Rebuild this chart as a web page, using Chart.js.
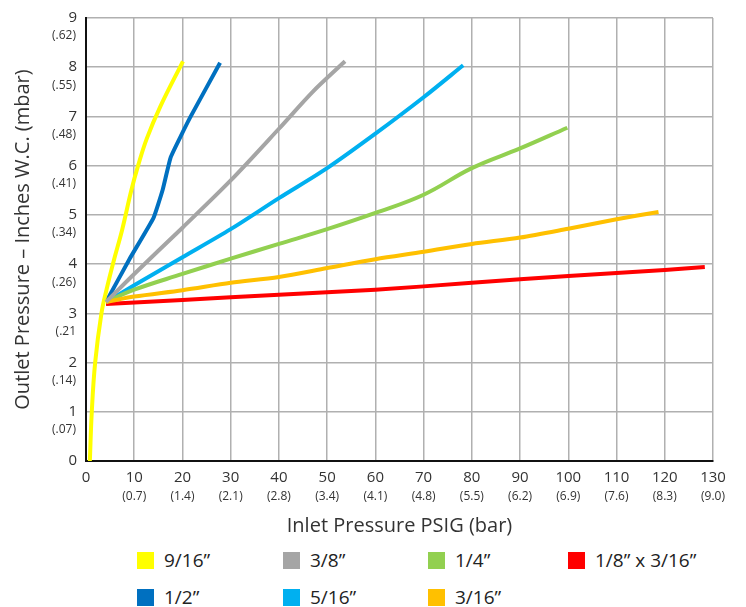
<!DOCTYPE html>
<html>
<head>
<meta charset="utf-8">
<script src="https://cdn.jsdelivr.net/npm/chart.js@4.4.1/dist/chart.umd.min.js"></script>
<style>
  body { margin: 0; background: #fff; font-family: "Open Sans", Roboto, sans-serif; }
  #wrap { position: relative; width: 746px; height: 540px; }
  #legend { position: relative; width: 746px; height: 67px; }
  .item { position: absolute; display: flex; align-items: center; font-size: 19px; color: #222; line-height: 20px; }
  .box { width: 17px; height: 17px; margin-right: 10px; }
</style>
</head>
<body>
<div id="wrap"><canvas id="flowChart" width="746" height="540"></canvas></div>
<div id="legend"></div>
<script>
// ── Series (orifice sizes) ────────────────────────────────────────────────────
const names  = ["9/16\u201d", "3/8\u201d", "1/4\u201d", "1/8\u201d x 3/16\u201d", "1/2\u201d", "5/16\u201d", "3/16\u201d"];
const colors = ["#ffff00", "#a5a5a5", "#92d050", "#ff0000", "#0070c0", "#00b0f0", "#ffc000"];

// inlet pressure (PSIG) / outlet pressure (inches W.C.) per series
const x916  = [0.8, 1.2, 1.9, 3.2, 4.3, 5.7, 7.5, 9.4, 10.8, 12.6, 15.4, 20.1];
const y916  = [0.0, 1.0, 2.0, 3.0, 3.5, 4.05, 4.7, 5.5, 6.0, 6.55, 7.2, 8.12];
const x38   = [4.15, 10, 20, 30, 40, 47, 53.7];
const y38   = [3.23, 3.8, 4.74, 5.7, 6.75, 7.5, 8.12];
const x14   = [4.15, 10, 20, 30, 40, 50, 60, 70, 80, 90, 99.8];
const y14   = [3.23, 3.48, 3.8, 4.11, 4.41, 4.71, 5.04, 5.41, 5.95, 6.35, 6.77];
const x18   = [4.15, 20, 40, 60, 80, 100, 120, 128.3];
const y18   = [3.19, 3.27, 3.38, 3.48, 3.62, 3.76, 3.88, 3.94];
const x12   = [4.15, 9, 14.0, 15.9, 17.6, 21.6, 27.8];
const y12   = [3.23, 4.1, 4.94, 5.51, 6.18, 6.98, 8.09];
const x516  = [4.15, 10, 20, 30, 40, 50, 60, 70, 78.2];
const y516  = [3.23, 3.57, 4.14, 4.71, 5.34, 5.95, 6.65, 7.39, 8.04];
const x316  = [4.15, 10, 20, 30, 40, 50, 60, 70, 80, 90, 100, 110, 118.7];
const y316  = [3.23, 3.34, 3.47, 3.62, 3.74, 3.92, 4.1, 4.25, 4.41, 4.54, 4.72, 4.91, 5.06];

const seriesX = [x916, x38, x14, x18, x12, x516, x316];
const seriesY = [y916, y38, y14, y18, y12, y516, y316];
const tensions = [0.4, 0.3, 0.4, 0.3, 0.12, 0.3, 0.3];

// ── Tick labels ───────────────────────────────────────────────────────────────
const xBarLabels = ["", "(0.7)", "(1.4)", "(2.1)", "(2.8)", "(3.4)", "(4.1)", "(4.8)", "(5.5)", "(6.2)", "(6.9)", "(7.6)", "(8.3)", "(9.0)"];
const yBarLabels = ["", "(.07)", "(.14)", "(.21", "(.26)", "(.34)", "(.41)", "(.48)", "(.55)", "(.62)"];

const tickColor = "#333";
const gridColor = "#b0b0b0";
const fontFamily = "'Open Sans', Roboto, sans-serif";

// red drawn on top, then the rest
const drawOrder = [1, 0, 3, 5, 4, 6, 2];

const datasets = names.map((name, i) => ({
    label: name,
    data: seriesX[i].map((x, j) => ({ x: x, y: seriesY[i][j] })),
    borderColor: colors[i],
    backgroundColor: colors[i],
    borderWidth: 4,
    pointRadius: 0,
    showLine: true,
    fill: false,
    tension: tensions[i],
    order: drawOrder[i]
}));

// bar-unit labels under each inches W.C. tick
const yBarPlugin = {
    id: "yBarLabels",
    afterDraw(chart) {
        const ys = chart.scales.y;
        const ctx = chart.ctx;
        ctx.save();
        ctx.font = "12px " + fontFamily;
        ctx.fillStyle = tickColor;
        ctx.textAlign = "right";
        ctx.textBaseline = "middle";
        ys.ticks.forEach(t => {
            ctx.fillText(yBarLabels[Math.round(t.value)], ys.right - 10, ys.getPixelForValue(t.value) + 18);
        });
        ctx.restore();
    }
};

const chart = new Chart(document.getElementById("flowChart"), {
    type: "scatter",
    data: { datasets: datasets },
    plugins: [yBarPlugin],
    options: {
        responsive: false,
        animation: false,
        layout: { padding: { top: 13, right: 33, left: 0, bottom: 0 } },
        plugins: { legend: { display: false }, tooltip: { enabled: false } },
        scales: {
            x: {
                type: "linear", position: "bottom", min: 0, max: 130, weight: 0,
                ticks: { stepSize: 10, color: tickColor, padding: 8, font: { family: fontFamily, size: 15 } },
                grid: { color: gridColor, lineWidth: 1.5, drawTicks: false },
                border: { color: "#111", width: 2 },
                afterFit: s => { s.height = 28; }
            },
            xBar: {
                type: "linear", position: "bottom", min: 0, max: 130, weight: 1,
                ticks: { stepSize: 10, color: tickColor, padding: 0, font: { family: fontFamily, size: 12 },
                         callback: v => xBarLabels[Math.round(v / 10)] },
                grid: { display: false, drawTicks: false },
                border: { display: false },
                title: { display: true, text: "Inlet Pressure PSIG (bar)", color: tickColor,
                         font: { family: fontFamily, size: 20 }, padding: { top: 0, bottom: 2 } },
                afterFit: s => { s.height = 51; }
            },
            y: {
                type: "linear", position: "left", min: 0, max: 9,
                ticks: { stepSize: 1, color: tickColor, padding: 9, font: { family: fontFamily, size: 15 } },
                grid: { color: gridColor, lineWidth: 1.5, drawTicks: false },
                border: { color: "#111", width: 2 },
                title: { display: true, text: "Outlet Pressure \u2013 Inches W.C. (mbar)", color: tickColor,
                         font: { family: fontFamily, size: 20 }, padding: { top: 11, bottom: 0 } },
                afterFit: s => { s.width = 86; }
            }
        }
    }
});

// ── Legend (two rows, aligned columns) ────────────────────────────────────────
const legendCols = [137, 283, 428, 568];
const legendRows = [10, 47];
const legendEl = document.getElementById("legend");
names.forEach((name, i) => {
    const item = document.createElement("div");
    item.className = "item";
    item.style.left = legendCols[i % 4] + "px";
    item.style.top  = legendRows[Math.floor(i / 4)] + "px";
    item.innerHTML = '<span class="box" style="background:' + colors[i] + '"></span>' + name;
    legendEl.appendChild(item);
});
</script>
</body>
</html>
